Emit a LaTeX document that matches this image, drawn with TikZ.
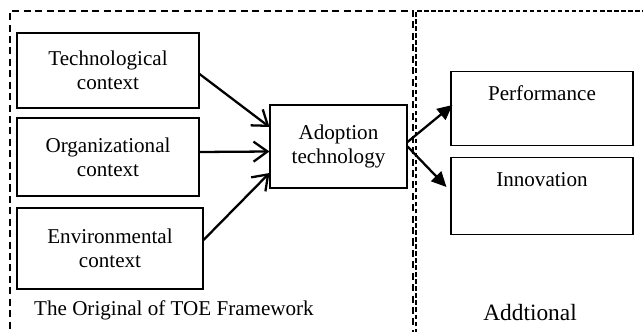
\documentclass[tikz,border=0pt]{standalone}
\usepackage{fontspec}
\setmainfont{Liberation Serif}
\usetikzlibrary{arrows.meta}

\begin{document}
\begin{tikzpicture}[
  ctxbox/.style={draw, rectangle, line width=0.6pt, align=center, font=\fontsize{12}{13.6}\selectfont, inner sep=0pt},
  outbox/.style={draw, rectangle, line width=0.6pt, font=\fontsize{12}{13.6}\selectfont, inner xsep=0pt, inner ysep=0.2cm, minimum width=3.64cm, text height=0.38cm},
  inarrow/.style={-{Straight Barb[length=2.8mm, width=4mm]}, line width=1.3pt},
  outarrow/.style={-{Triangle[length=3mm, width=2.8mm]}, line width=1.3pt},
  frame/.style={dash pattern=on 4pt off 2.5pt, line width=0.6pt}
]
\useasboundingbox (0,0) rectangle (12.86,-6.64);

\draw[frame] (0.2,-6.8) |- (8.26,-0.22) -- (8.26,-6.8);
\draw[frame, dash pattern=on 2.5pt off 1.5pt] (8.32,-6.8) |- (12.95,-0.22);

\node[ctxbox, minimum width=3.64cm, minimum height=1.5cm] (tech) at (2.16,-1.41) {Technological\\context};
\node[ctxbox, minimum width=3.64cm, minimum height=1.56cm] (org) at (2.16,-3.14) {Organizational\\context};
\node[ctxbox, minimum width=3.72cm, minimum height=1.62cm] (env) at (2.2,-4.97) {Environmental\\context};
\node[ctxbox, minimum width=2.74cm, minimum height=1.66cm] (adopt) at (6.77,-2.93) {Adoption\\technology};

\node[outbox, text depth=0.7cm] (perf) at (10.84,-2.17) {Performance};
\node[outbox, text depth=0.76cm] (innov) at (10.84,-3.92) {Innovation};

\draw[inarrow] ([yshift=-0.07cm]tech.east) -- ([yshift=0.39cm]adopt.west);
\draw[inarrow] ([yshift=0.1cm]org.east) -- ([yshift=-0.1cm]adopt.west);
\draw[inarrow] ([yshift=0.17cm]env.east) -- ([yshift=-0.53cm]adopt.west);

\draw[outarrow] ([yshift=0.09cm]adopt.east) -- ([xshift=0.04cm,yshift=0.07cm]perf.west);
\draw[outarrow] (adopt.east) -- ([xshift=-0.08cm,yshift=0.18cm]innov.west);

\node[anchor=west, font=\fontsize{12}{14}\selectfont] (toe) at (0.56,-6.2) {The Original of TOE Framework};
\node[font=\fontsize{13.3}{15}\selectfont] (addl) at (10.6,-6.26) {Addtional};
\end{tikzpicture}
\end{document}
